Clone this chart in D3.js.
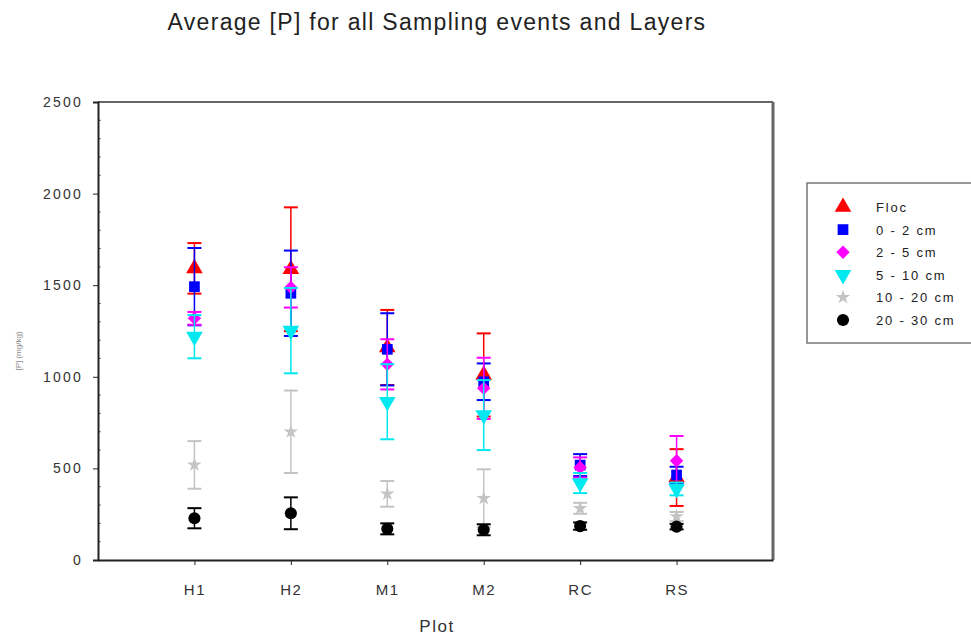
<!DOCTYPE html>
<html>
<head>
<meta charset="utf-8">
<script src="https://cdn.jsdelivr.net/npm/d3@7"></script>
<style>
  html, body { margin: 0; padding: 0; background: #fff; }
  svg { display: block; font-family: "Liberation Sans", Arial, sans-serif; }
</style>
</head>
<body>
<svg id="chart" width="971" height="640"></svg>
<script>
const categories = ["H1", "H2", "M1", "M2", "RC", "RS"];
const seriesNames = ["Floc", "0 - 2 cm", "2 - 5 cm", "5 - 10 cm", "10 - 20 cm", "20 - 30 cm"];
const flocMean  = [1592, 1587, 1160, 1010, null, 450];
const flocErr   = [138, 338, 205, 227, null, 155];
const d02Mean   = [1492, 1456, 1150, 973, 518, 464];
const d02Err    = [211, 233, 197, 100, 60, 45];
const d25Mean   = [1319, 1488, 1068, 937, 505, 542];
const d25Err    = [35, 110, 137, 167, 55, 135];
const d510Mean  = [1219, 1252, 864, 791, 420, 388];
const d510Err   = [118, 233, 205, 191, 55, 35];
const d1020Mean = [519, 700, 361, 337, 282, 237];
const d1020Err  = [130, 225, 70, 158, 30, 25];
const d2030Mean = [228, 255, 170, 165, 185, 182];
const d2030Err  = [55, 87, 30, 30, 20, 15];
const yTicks = [0, 500, 1000, 1500, 2000, 2500];

const seriesColors = ["#ff0000", "#0000ff", "#ff00ff", "#00e8f0", "#c4c4c4", "#000000"];
const seriesSymbols = [d3.symbolTriangle, d3.symbolSquare, d3.symbolSquare, d3.symbolTriangle, d3.symbolStar, d3.symbolCircle];
const seriesSizes = [120, 115, 90, 120, 65, 115];
const seriesRot = [0, 0, 45, 180, 0, 0];
const means = [flocMean, d02Mean, d25Mean, d510Mean, d1020Mean, d2030Mean];
const errs = [flocErr, d02Err, d25Err, d510Err, d1020Err, d2030Err];

const svg = d3.select("#chart");
const L = 98, R = 773, T = 102, B = 560;

const x = d3.scaleLinear().domain([0, categories.length + 1]).range([L, R]);
const y = d3.scaleLinear().domain([0, 2500]).range([B, T]);

// Title
svg.append("text").attr("x", 437).attr("y", 30).attr("text-anchor", "middle")
  .attr("font-size", 23).attr("letter-spacing", 1.3).attr("fill", "#222")
  .text("Average [P] for all Sampling events and Layers");

// Frame top/right
svg.append("line").attr("x1", L).attr("x2", R).attr("y1", T).attr("y2", T).attr("stroke", "#666").attr("stroke-width", 2);
svg.append("line").attr("x1", R).attr("x2", R).attr("y1", T).attr("y2", B).attr("stroke", "#666").attr("stroke-width", 3);

// Minor y ticks (inward)
const minor = d3.range(100, 2500, 100).filter(v => v % 500 !== 0);
svg.append("g").selectAll("line").data(minor).join("line")
  .attr("x1", L).attr("x2", L + 3).attr("y1", d => y(d)).attr("y2", d => y(d))
  .attr("stroke", "#777").attr("stroke-width", 1);

// Y axis
const yAxis = svg.append("g").attr("transform", `translate(${L},0)`)
  .call(d3.axisLeft(y).tickValues(yTicks).tickFormat(d3.format("d")).tickSize(5).tickPadding(10));
yAxis.select(".domain").attr("stroke", "#222").attr("stroke-width", 2);
yAxis.selectAll(".tick line").attr("stroke", "#222");
yAxis.selectAll("text").attr("font-size", 14).attr("letter-spacing", 2.2).attr("fill", "#333")
  .attr("font-family", "Liberation Sans, Arial, sans-serif");

// X axis
const xAxis = svg.append("g").attr("transform", `translate(0,${B})`)
  .call(d3.axisBottom(x).tickValues(d3.range(1, categories.length + 1))
    .tickFormat(i => categories[i - 1]).tickSize(5).tickPadding(19).tickSizeOuter(0));
xAxis.select(".domain").attr("stroke", "#222").attr("stroke-width", 2);
xAxis.selectAll(".tick line").attr("stroke", "#222");
xAxis.selectAll("text").attr("font-size", 15).attr("letter-spacing", 1.5).attr("fill", "#333")
  .attr("font-family", "Liberation Sans, Arial, sans-serif");

// Axis labels
svg.append("text").attr("x", 437).attr("y", 632).attr("text-anchor", "middle")
  .attr("font-size", 17).attr("letter-spacing", 1.5).attr("fill", "#333").text("Plot");
svg.append("text").attr("transform", "translate(21,351) rotate(-90)").attr("text-anchor", "middle")
  .attr("font-size", 8).attr("fill", "#888").text("[P] (mg/kg)");

// Data
const capW = 7;
means.forEach((m, s) => {
  const g = svg.append("g");
  const pts = categories.map((c, i) => ({ i: i + 1, v: m[i], e: errs[s][i] })).filter(d => d.v != null);
  const col = seriesColors[s];
  g.selectAll("line.v").data(pts).join("line")
    .attr("x1", d => x(d.i)).attr("x2", d => x(d.i))
    .attr("y1", d => y(d.v - d.e)).attr("y2", d => y(d.v + d.e))
    .attr("stroke", col).attr("stroke-width", 1.5);
  ["top", "bot"].forEach(k => {
    g.selectAll("line." + k).data(pts).join("line")
      .attr("x1", d => x(d.i) - capW).attr("x2", d => x(d.i) + capW)
      .attr("y1", d => y(k === "top" ? d.v + d.e : d.v - d.e))
      .attr("y2", d => y(k === "top" ? d.v + d.e : d.v - d.e))
      .attr("stroke", col).attr("stroke-width", 2);
  });
  g.selectAll("path").data(pts).join("path")
    .attr("d", d3.symbol().type(seriesSymbols[s]).size(seriesSizes[s]))
    .attr("transform", d => `translate(${x(d.i)},${y(d.v)}) rotate(${seriesRot[s]})`)
    .attr("fill", col);
});

// Legend
const lg = svg.append("g");
lg.append("rect").attr("x", 807).attr("y", 183).attr("width", 170).attr("height", 160)
  .attr("fill", "#fff").attr("stroke", "#777").attr("stroke-width", 1.5);
seriesNames.forEach((n, s) => {
  const yy = 207 + s * 22.6;
  lg.append("path").attr("d", d3.symbol().type(seriesSymbols[s]).size(seriesSizes[s]))
    .attr("transform", `translate(843,${yy}) rotate(${seriesRot[s]})`).attr("fill", seriesColors[s]);
  lg.append("text").attr("x", 876).attr("y", yy + 5).attr("font-size", 13).attr("letter-spacing", 1.8)
    .attr("fill", "#222").text(n);
});
</script>
</body>
</html>
